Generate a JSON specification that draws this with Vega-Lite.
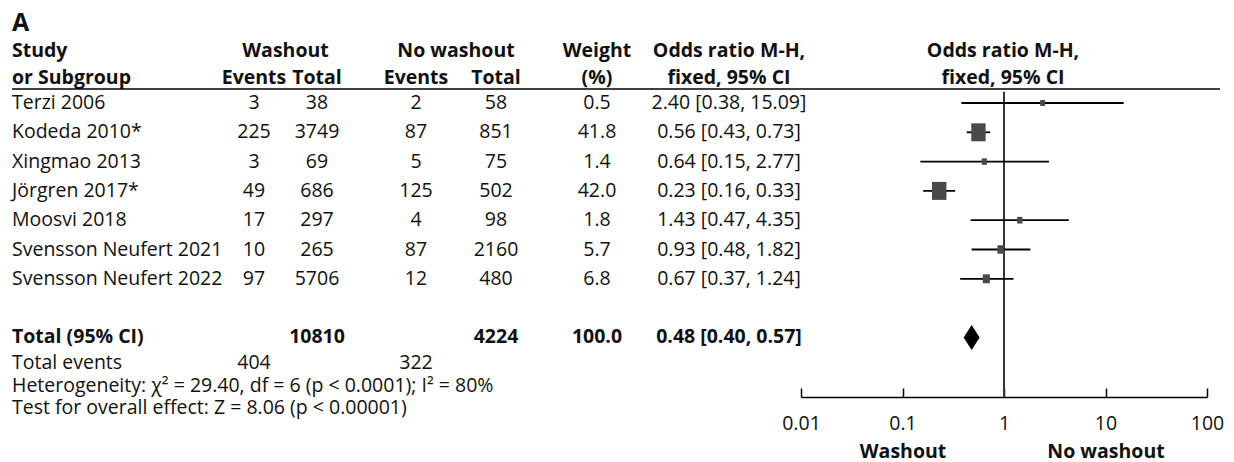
{
  "$schema": "https://vega.github.io/schema/vega-lite/v6.json",
  "width": 1234,
  "height": 462,
  "autosize": {"type": "fit", "contains": "padding"},
  "padding": 0,
  "background": "white",
  "config": {
    "view": {"stroke": null},
    "font": "Open Sans",
    "text": {"font": "Open Sans", "fontSize": 19.5, "color": "#111111"}
  },
  "datasets": {
    "cells": [
      {"section": "panel", "row": -2.72, "col": 0, "text": "A"},
      {"section": "header", "row": -1.79, "col": 0, "text": "Study"},
      {"section": "header", "row": -0.87, "col": 0, "text": "or Subgroup"},
      {"section": "header", "row": -1.79, "col": 1.5, "text": "Washout"},
      {"section": "header", "row": -0.87, "col": 1, "text": "Events"},
      {"section": "header", "row": -0.87, "col": 2, "text": "Total"},
      {"section": "header", "row": -1.79, "col": 3.5, "text": "No washout"},
      {"section": "header", "row": -0.87, "col": 3, "text": "Events"},
      {"section": "header", "row": -0.87, "col": 4, "text": "Total"},
      {"section": "header", "row": -1.79, "col": 5, "text": "Weight"},
      {"section": "header", "row": -0.87, "col": 5, "text": "(%)"},
      {"section": "header", "row": -1.79, "col": 6, "text": "Odds ratio M-H,"},
      {"section": "header", "row": -0.87, "col": 6, "text": "fixed, 95% CI"},
      {"section": "header", "row": -1.79, "col": 7, "text": "Odds ratio M-H,"},
      {"section": "header", "row": -0.87, "col": 7, "text": "fixed, 95% CI"},

      {"section": "study", "row": 0, "col": 0, "text": "Terzi 2006"},
      {"section": "study", "row": 0, "col": 1, "text": "3"},
      {"section": "study", "row": 0, "col": 2, "text": "38"},
      {"section": "study", "row": 0, "col": 3, "text": "2"},
      {"section": "study", "row": 0, "col": 4, "text": "58"},
      {"section": "study", "row": 0, "col": 5, "text": "0.5"},
      {"section": "study", "row": 0, "col": 6, "text": "2.40 [0.38, 15.09]"},

      {"section": "study", "row": 1, "col": 0, "text": "Kodeda 2010*"},
      {"section": "study", "row": 1, "col": 1, "text": "225"},
      {"section": "study", "row": 1, "col": 2, "text": "3749"},
      {"section": "study", "row": 1, "col": 3, "text": "87"},
      {"section": "study", "row": 1, "col": 4, "text": "851"},
      {"section": "study", "row": 1, "col": 5, "text": "41.8"},
      {"section": "study", "row": 1, "col": 6, "text": "0.56 [0.43, 0.73]"},

      {"section": "study", "row": 2, "col": 0, "text": "Xingmao 2013"},
      {"section": "study", "row": 2, "col": 1, "text": "3"},
      {"section": "study", "row": 2, "col": 2, "text": "69"},
      {"section": "study", "row": 2, "col": 3, "text": "5"},
      {"section": "study", "row": 2, "col": 4, "text": "75"},
      {"section": "study", "row": 2, "col": 5, "text": "1.4"},
      {"section": "study", "row": 2, "col": 6, "text": "0.64 [0.15, 2.77]"},

      {"section": "study", "row": 3, "col": 0, "text": "Jörgren 2017*"},
      {"section": "study", "row": 3, "col": 1, "text": "49"},
      {"section": "study", "row": 3, "col": 2, "text": "686"},
      {"section": "study", "row": 3, "col": 3, "text": "125"},
      {"section": "study", "row": 3, "col": 4, "text": "502"},
      {"section": "study", "row": 3, "col": 5, "text": "42.0"},
      {"section": "study", "row": 3, "col": 6, "text": "0.23 [0.16, 0.33]"},

      {"section": "study", "row": 4, "col": 0, "text": "Moosvi 2018"},
      {"section": "study", "row": 4, "col": 1, "text": "17"},
      {"section": "study", "row": 4, "col": 2, "text": "297"},
      {"section": "study", "row": 4, "col": 3, "text": "4"},
      {"section": "study", "row": 4, "col": 4, "text": "98"},
      {"section": "study", "row": 4, "col": 5, "text": "1.8"},
      {"section": "study", "row": 4, "col": 6, "text": "1.43 [0.47, 4.35]"},

      {"section": "study", "row": 5, "col": 0, "text": "Svensson Neufert 2021"},
      {"section": "study", "row": 5, "col": 1, "text": "10"},
      {"section": "study", "row": 5, "col": 2, "text": "265"},
      {"section": "study", "row": 5, "col": 3, "text": "87"},
      {"section": "study", "row": 5, "col": 4, "text": "2160"},
      {"section": "study", "row": 5, "col": 5, "text": "5.7"},
      {"section": "study", "row": 5, "col": 6, "text": "0.93 [0.48, 1.82]"},

      {"section": "study", "row": 6, "col": 0, "text": "Svensson Neufert 2022"},
      {"section": "study", "row": 6, "col": 1, "text": "97"},
      {"section": "study", "row": 6, "col": 2, "text": "5706"},
      {"section": "study", "row": 6, "col": 3, "text": "12"},
      {"section": "study", "row": 6, "col": 4, "text": "480"},
      {"section": "study", "row": 6, "col": 5, "text": "6.8"},
      {"section": "study", "row": 6, "col": 6, "text": "0.67 [0.37, 1.24]"},

      {"section": "total", "row": 8, "col": 0, "text": "Total (95% CI)"},
      {"section": "total", "row": 8, "col": 2, "text": "10810"},
      {"section": "total", "row": 8, "col": 4, "text": "4224"},
      {"section": "total", "row": 8, "col": 5, "text": "100.0"},
      {"section": "total", "row": 8, "col": 6, "text": "0.48 [0.40, 0.57]"},

      {"section": "footer", "row": 8.87, "col": 0, "text": "Total events"},
      {"section": "footer", "row": 8.87, "col": 1, "text": "404"},
      {"section": "footer", "row": 8.87, "col": 3, "text": "322"},
      {"section": "footer", "row": 9.66, "col": 0, "text": "Heterogeneity: χ² = 29.40, df = 6 (p < 0.0001); I² = 80%"},
      {"section": "footer", "row": 10.41, "col": 0, "text": "Test for overall effect: Z = 8.06 (p < 0.00001)"}
    ],
    "studies": [
      {"row": 0, "study": "Terzi 2006", "or": 2.40, "lo": 0.38, "hi": 15.09, "weight": 0.5},
      {"row": 1, "study": "Kodeda 2010*", "or": 0.56, "lo": 0.43, "hi": 0.73, "weight": 41.8},
      {"row": 2, "study": "Xingmao 2013", "or": 0.64, "lo": 0.15, "hi": 2.77, "weight": 1.4},
      {"row": 3, "study": "Jörgren 2017*", "or": 0.23, "lo": 0.16, "hi": 0.33, "weight": 42.0},
      {"row": 4, "study": "Moosvi 2018", "or": 1.43, "lo": 0.47, "hi": 4.35, "weight": 1.8},
      {"row": 5, "study": "Svensson Neufert 2021", "or": 0.93, "lo": 0.48, "hi": 1.82, "weight": 5.7},
      {"row": 6, "study": "Svensson Neufert 2022", "or": 0.67, "lo": 0.37, "hi": 1.24, "weight": 6.8}
    ],
    "total": [
      {"row": 8, "study": "Total (95% CI)", "or": 0.48, "lo": 0.40, "hi": 0.57, "weight": 100}
    ]
  },
  "layer": [
    {
      "data": {"name": "cells"},
      "layer": [
        {
          "transform": [{"filter": "datum.section == 'panel'"}],
          "mark": {"type": "text", "align": "left", "baseline": "middle", "fontSize": 25, "fontWeight": "bold"},
          "encoding": {
            "x": {"field": "col", "type": "quantitative", "scale": {"type": "linear", "domain": [0, 1, 2, 3, 4, 5, 6, 7, 8], "range": [12, 254, 317, 416, 496, 597, 729, 1003, 1220], "zero": false, "nice": false}, "axis": null},
            "y": {"field": "row", "type": "quantitative", "scale": {"domain": [0, 8], "range": [103, 337.4], "zero": false, "nice": false}, "axis": null},
            "text": {"field": "text"}
          }
        },
        {
          "transform": [{"filter": "datum.col == 0 && (datum.section == 'study' || datum.section == 'footer')"}],
          "mark": {"type": "text", "align": "left", "baseline": "middle"},
          "encoding": {
            "x": {"field": "col", "type": "quantitative", "axis": null},
            "y": {"field": "row", "type": "quantitative", "axis": null},
            "text": {"field": "text"}
          }
        },
        {
          "transform": [{"filter": "datum.col == 0 && (datum.section == 'header' || datum.section == 'total')"}],
          "mark": {"type": "text", "align": "left", "baseline": "middle", "fontWeight": "bold"},
          "encoding": {
            "x": {"field": "col", "type": "quantitative", "axis": null},
            "y": {"field": "row", "type": "quantitative", "axis": null},
            "text": {"field": "text"}
          }
        },
        {
          "transform": [{"filter": "datum.col > 0 && (datum.section == 'study' || datum.section == 'footer')"}],
          "mark": {"type": "text", "align": "center", "baseline": "middle"},
          "encoding": {
            "x": {"field": "col", "type": "quantitative", "axis": null},
            "y": {"field": "row", "type": "quantitative", "axis": null},
            "text": {"field": "text"}
          }
        },
        {
          "transform": [{"filter": "datum.col > 0 && (datum.section == 'header' || datum.section == 'total')"}],
          "mark": {"type": "text", "align": "center", "baseline": "middle", "fontWeight": "bold"},
          "encoding": {
            "x": {"field": "col", "type": "quantitative", "axis": null},
            "y": {"field": "row", "type": "quantitative", "axis": null},
            "text": {"field": "text"}
          }
        },
        {
          "data": {"values": [{}]},
          "mark": {"type": "rule", "color": "#000000", "strokeWidth": 1.5},
          "encoding": {
            "x": {"datum": 0, "type": "quantitative", "axis": null},
            "x2": {"datum": 8},
            "y": {"datum": -0.48, "type": "quantitative", "axis": null}
          }
        }
      ]
    },
    {
      "layer": [
        {
          "data": {"values": [{}]},
          "mark": {"type": "rule", "color": "#333333", "strokeWidth": 2},
          "encoding": {
            "x": {
              "datum": 1, "type": "quantitative",
              "scale": {"type": "log", "domain": [0.01, 100], "range": [801, 1207], "nice": false},
              "axis": {
                "orient": "bottom", "offset": -65, "values": [0.01, 0.1, 1, 10, 100],
                "labelExpr": "'' + datum.value", "title": null, "grid": false,
                "domainColor": "#000000", "domainWidth": 1.5,
                "tickColor": "#000000", "tickWidth": 1.5, "tickSize": -9,
                "labelFont": "Open Sans", "labelFontSize": 19.5, "labelColor": "#111111",
                "labelPadding": 26, "labelFlush": false, "labelOverlap": false
              }
            },
            "y": {"datum": -0.38, "type": "quantitative", "axis": null},
            "y2": {"datum": 10.03}
          }
        },
        {
          "data": {"name": "studies"},
          "mark": {"type": "rule", "color": "#000000", "strokeWidth": 1.8},
          "encoding": {
            "x": {"field": "lo", "type": "quantitative", "axis": null},
            "x2": {"field": "hi"},
            "y": {"field": "row", "type": "quantitative", "axis": null}
          }
        },
        {
          "data": {"name": "studies"},
          "mark": {"type": "point", "shape": "M-0.8,-1L0.8,-1L0.8,1L-0.8,1Z", "filled": true, "color": "#4a4a4a", "opacity": 1, "strokeWidth": 0},
          "encoding": {
            "x": {"field": "or", "type": "quantitative", "axis": null},
            "y": {"field": "row", "type": "quantitative", "axis": null},
            "size": {"field": "weight", "type": "quantitative", "scale": {"type": "linear", "domain": [0, 42], "range": [32, 324], "zero": false}, "legend": null}
          }
        },
        {
          "data": {"name": "total"},
          "mark": {"type": "point", "shape": "M0,-1L0.64,0L0,1L-0.64,0Z", "filled": true, "color": "#000000", "opacity": 1, "size": 625, "strokeWidth": 0},
          "encoding": {
            "x": {
              "field": "or", "type": "quantitative",
              "axis": {
                "orient": "bottom", "offset": -65, "values": [0.1, 10],
                "labelExpr": "datum.value < 1 ? 'Washout' : 'No washout'", "title": null, "grid": false,
                "domain": false, "ticks": false,
                "labelFont": "Open Sans", "labelFontSize": 19.5, "labelFontWeight": "bold", "labelColor": "#111111",
                "labelPadding": 45, "labelFlush": false, "labelOverlap": false
              }
            },
            "y": {"field": "row", "type": "quantitative", "axis": null}
          }
        }
      ],
      "resolve": {"axis": {"x": "independent"}}
    }
  ],
  "resolve": {"scale": {"x": "independent"}}
}
